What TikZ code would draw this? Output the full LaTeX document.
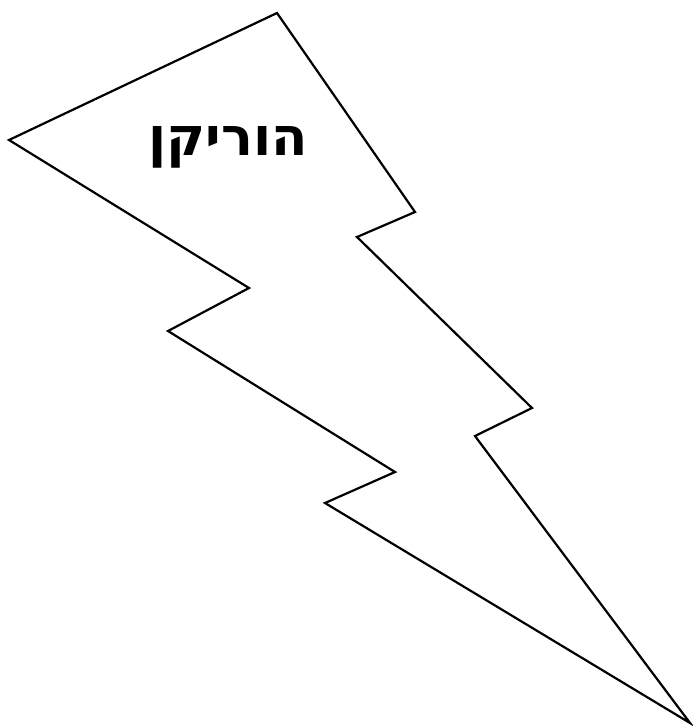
\documentclass[tikz,border=0pt]{standalone}
\usepackage{fontspec}
\newfontfamily\hebfont[Script=Hebrew]{DejaVu Sans}
\TeXXeTstate=1
\begin{document}
\begin{tikzpicture}[x=1pt,y=-1pt,line join=miter]
    \useasboundingbox (0,0) rectangle (693,728);
    % bolt outline
    \draw[line width=2.2pt] (277,13) -- (415,212) -- (357,237) -- (532,408)
        -- (475,436) -- (690,723) -- (325,503) -- (395,472) -- (168,331)
        -- (249,288) -- (9,140) -- cycle;
    \node[font=\hebfont\bfseries\fontsize{53}{63}\selectfont] (label) at (228,147)
        {\beginR הוריקן\endR};
\end{tikzpicture}
\end{document}
